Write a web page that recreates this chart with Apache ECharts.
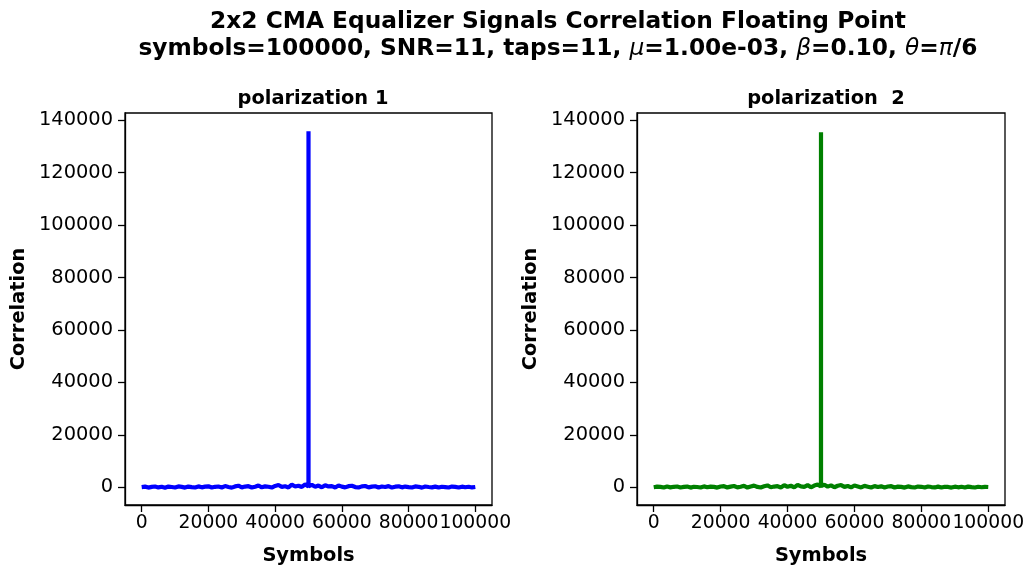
<!DOCTYPE html>
<html>
<head>
<meta charset="utf-8">
<script src="https://cdn.jsdelivr.net/npm/echarts@6/dist/echarts.min.js"></script>
<style>
  html, body { margin: 0; padding: 0; background: #ffffff; }
  #chart { width: 1029px; height: 569px; }
</style>
</head>
<body>
<div id="chart"></div>
<script>
// Symbol positions where the correlation is sampled
const symbols = [
  0, 1000, 2000, 3000, 4000, 5000, 6000, 7000, 8000, 9000,
  10000, 11000, 12000, 13000, 14000, 15000, 16000, 17000, 18000, 19000,
  20000, 21000, 22000, 23000, 24000, 25000, 26000, 27000, 28000, 29000,
  30000, 31000, 32000, 33000, 34000, 35000, 36000, 37000, 38000, 39000,
  40000, 41000, 42000, 43000, 44000, 45000, 46000, 47000, 48000, 49000,
  49990, 50000, 50010,
  51000, 52000, 53000, 54000, 55000, 56000, 57000, 58000, 59000, 60000,
  61000, 62000, 63000, 64000, 65000, 66000, 67000, 68000, 69000, 70000,
  71000, 72000, 73000, 74000, 75000, 76000, 77000, 78000, 79000, 80000,
  81000, 82000, 83000, 84000, 85000, 86000, 87000, 88000, 89000, 90000,
  91000, 92000, 93000, 94000, 95000, 96000, 97000, 98000, 99000,
  99999
];

// Correlation, polarization 1
const corrPol1 = [
  40, 210, -150, 120, 260, -90, 170, -180, 230, 60,
  -130, 280, 100, -160, 220, 30, -120, 300, -50, 190,
  330, -140, 150, 250, -100, 420, 80, -170, 290, 560,
  -60, 240, 380, -120, 190, 650, -40, 310, 170, -140,
  480, 820, 120, 360, -80, 970, 260, 570, 90, 1080,
  300, 135800, 360,
  900, 160, 600, -50, 740, 290, 420, -100, 650, 210,
  -80, 390, 540, 40, -130, 310, 460, -60, 230, 350,
  -110, 270, 80, 410, -150, 190, 320, -70, 240, 50,
  -130, 280, 150, -170, 250, 60, -90, 210, -150, 170,
  30, -120, 230, 100, -140, 200, -40, 160, -100,
  80
];

// Correlation, polarization 2
const corrPol2 = [
  -30, 190, 110, -140, 240, -80, 150, 270, -120, 90,
  220, -160, 170, 60, -110, 300, -30, 210, 120, -150,
  260, 370, -90, 200, 460, -60, 160, 520, -130, 280,
  590, 100, -110, 340, 670, -40, 240, 390, -90, 750,
  170, 550, -70, 890, 310, 130, 790, -30, 610, 1010,
  320, 135500, 370,
  950, 210, 700, -20, 550, 810, 110, 460, -70, 630,
  280, -110, 510, 190, -140, 410, 60, 320, -90, 250,
  370, -130, 200, 110, -160, 290, 40, -110, 230, 140,
  -150, 260, 50, -100, 210, -130, 170, 90, -150, 200,
  -50, 150, -130, 220, 10, -110, 180, -40, 130,
  60
];

const xTicks = [0, 20000, 40000, 60000, 80000, 100000];
const yTicks = [0, 20000, 40000, 60000, 80000, 100000, 120000, 140000];

const FONT = 'DejaVu Sans';
const FS = 19.4;

function pairs(xs, ys) {
  return xs.map((x, i) => [x, ys[i]]);
}

function plain(v) {
  return String(v);
}

function xAxisFor(gridIndex) {
  return {
    type: 'value', gridIndex: gridIndex,
    min: -5000, max: 105000,
    name: 'Symbols', nameLocation: 'middle', nameGap: 41,
    nameTextStyle: { fontFamily: FONT, fontWeight: 'bold', fontSize: FS, color: '#000' },
    axisLine: { show: true, onZero: false, lineStyle: { color: '#000', width: 1.3 } },
    axisTick: { show: true, customValues: xTicks, length: 7, lineStyle: { color: '#000', width: 1.3 } },
    axisLabel: {
      customValues: xTicks, formatter: plain,
      fontFamily: FONT, fontSize: 18.8, color: '#000', margin: 9
    },
    splitLine: { show: false }
  };
}

function yAxisFor(gridIndex) {
  return {
    type: 'value', gridIndex: gridIndex,
    min: -6800, max: 142800,
    name: 'Correlation', nameLocation: 'middle', nameGap: 97,
    nameTextStyle: { fontFamily: FONT, fontWeight: 'bold', fontSize: FS, color: '#000' },
    axisLine: { show: true, onZero: false, lineStyle: { color: '#000', width: 1.3 } },
    axisTick: { show: true, customValues: yTicks, length: 7, lineStyle: { color: '#000', width: 1.3 } },
    axisLabel: {
      customValues: yTicks, formatter: plain,
      fontFamily: FONT, fontSize: FS, color: '#000', margin: 12
    },
    splitLine: { show: false }
  };
}

const chart = echarts.init(document.getElementById('chart'), null, { renderer: 'canvas' });

chart.setOption({
  animation: false,
  backgroundColor: '#ffffff',
  title: [
    {
      text: '{b|2x2 CMA Equalizer Signals Correlation Floating Point}\n' +
            '{b|symbols=100000, SNR=11, taps=11, }{i|μ}{b|=1.00e-03, }{i|β}{b|=0.10, }{i|θ}{b|=}{i|π}{b|/6}',
      left: 553, top: 3, textAlign: 'center',
      textStyle: {
        fontFamily: FONT, fontSize: 23.3, fontWeight: 'bold', color: '#000', lineHeight: 27,
        rich: {
          b: { fontFamily: FONT, fontSize: 23.3, fontWeight: 'bold', color: '#000', lineHeight: 27 },
          i: { fontFamily: FONT, fontSize: 23.3, fontWeight: 'normal', fontStyle: 'italic', color: '#000', lineHeight: 27 }
        }
      }
    },
    {
      text: 'polarization 1', left: 308, top: 84, textAlign: 'center',
      textStyle: { fontFamily: FONT, fontSize: FS, fontWeight: 'bold', color: '#000' }
    },
    {
      text: 'polarization  2', left: 821, top: 84, textAlign: 'center',
      textStyle: { fontFamily: FONT, fontSize: FS, fontWeight: 'bold', color: '#000' }
    }
  ],
  grid: [
    {
      left: 125, top: 113, width: 367, height: 392, outerBoundsMode: 'none', containLabel: false,
      show: true, borderColor: '#000', borderWidth: 1.3, backgroundColor: 'transparent'
    },
    {
      left: 637, top: 113, width: 368, height: 392, outerBoundsMode: 'none', containLabel: false,
      show: true, borderColor: '#000', borderWidth: 1.3, backgroundColor: 'transparent'
    }
  ],
  xAxis: [xAxisFor(0), xAxisFor(1)],
  yAxis: [yAxisFor(0), yAxisFor(1)],
  series: [
    {
      type: 'line', xAxisIndex: 0, yAxisIndex: 0,
      data: pairs(symbols, corrPol1),
      showSymbol: false, silent: true,
      lineStyle: { color: '#0000ff', width: 4.2 }
    },
    {
      type: 'line', xAxisIndex: 1, yAxisIndex: 1,
      data: pairs(symbols, corrPol2),
      showSymbol: false, silent: true,
      lineStyle: { color: '#008000', width: 4.2 }
    }
  ]
});
</script>
</body>
</html>
